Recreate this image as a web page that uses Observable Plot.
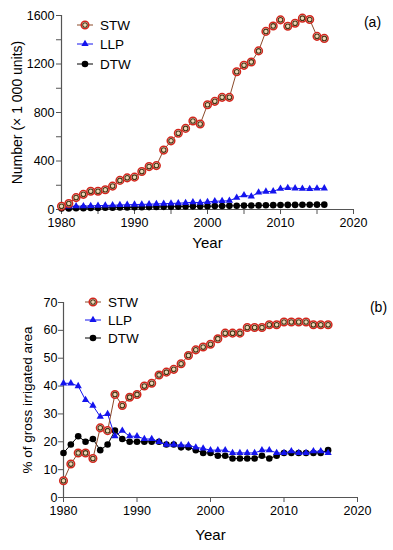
<!DOCTYPE html>
<html>
<head>
<meta charset="utf-8">
<script src="https://cdn.jsdelivr.net/npm/d3@7"></script>
<script src="https://cdn.jsdelivr.net/npm/@observablehq/plot@0.6"></script>
<style>
  html, body { margin: 0; padding: 0; background: #fff; }
  #wrap { position: relative; width: 393px; height: 550px; font-family: "Liberation Sans", Arial, sans-serif; }
  #wrap svg { display: block; }
  #legend { position: absolute; left: 0; top: 0; pointer-events: none; }
</style>
</head>
<body>
<div id="wrap"></div>
<script>
// ---------- Data ----------
const years = [1980,1981,1982,1983,1984,1985,1986,1987,1988,1989,1990,1991,1992,1993,1994,1995,1996,1997,1998,1999,
               2000,2001,2002,2003,2004,2005,2006,2007,2008,2009,2010,2011,2012,2013,2014,2015,2016];
const series = ["STW", "LLP", "DTW"];

// (a) Number of units (x 1 000)
const stwUnits = [27,49,98,125,150,150,163,193,240,261,267,313,354,362,490,566,629,669,730,705,
                  864,892,925,925,1136,1189,1217,1308,1469,1514,1564,1511,1536,1578,1567,1428,1411];
const llpUnits = [22,25,27,28,30,32,33,35,37,39,41,42,44,46,48,50,52,55,60,56,
                  62,68,70,72,98,118,108,140,148,150,172,178,175,172,170,173,175];
const dtwUnits = [8,9,10,11,12,13,14,15,16,17,18,19,20,21,22,23,24,25,26,26,
                  27,28,29,30,31,32,33,34,35,36,37,38,38,39,39,40,40];

// (b) % of gross irrigated area
const stwPct = [6,12,16,16,14,25,24,37,33,36,37,40,41,44,45,46,48,51,53,54,
                55,57,59,59,59,61,61,61,62,62,63,63,63,63,62,62,62];
const llpPct = [41,41,40,35,33,29,30,22,24,22,22,21,21,20,19,19,18.8,18.8,18,17.6,
                17,17,17,16,16,16,16,17,17,16,16,16.6,16,16,16.6,16.6,16];
const dtwPct = [16,19,22,20,21,17,19,24,21,20,20,20,20,20,19,19,18,18,17,16,
                16,15,15,14,14,14,14,15,14,15,16,16,16,16,16,16,17];

// Axis ticks
const xTicksTop = [1980,1985,1990,1995,2000,2005,2010,2015,2020];
const yTicksTop = [0,200,400,600,800,1000,1200,1400,1600];
const xTicksBot = [1980,1990,2000,2010,2020];
const yTicksBot = [0,10,20,30,40,50,60,70];

// Styles
const colors = {STW: "#8b4a2a", LLP: "#1414ee", DTW: "#000000"};
const stwRing = "#d3261c", stwInner = "#4a3412", stwFill = "#ead8b8";
const FONT = "'Liberation Sans', Arial, sans-serif";
const TRI_R = 2.7;

function rows(vals) { return years.map((y, i) => ({year: y, value: vals[i]})); }

function seriesMarks(stw, llp, dtw) {
  const S = rows(stw), L = rows(llp), D = rows(dtw);
  return [
    Plot.line(D, {x: "year", y: "value", stroke: colors.DTW, strokeWidth: 1}),
    Plot.dot(D, {x: "year", y: "value", fill: colors.DTW, r: 3.3}),
    Plot.line(L, {x: "year", y: "value", stroke: colors.LLP, strokeWidth: 1}),
    Plot.dot(L, {x: "year", y: "value", fill: colors.LLP, symbol: "triangle", r: TRI_R}),
    Plot.line(S, {x: "year", y: "value", stroke: colors.STW, strokeWidth: 1}),
    Plot.dot(S, {x: "year", y: "value", fill: "#fff", stroke: stwRing, strokeWidth: 1.5, r: 3.8}),
    Plot.dot(S, {x: "year", y: "value", fill: stwFill, stroke: stwInner, strokeWidth: 1.1, r: 2.3})
  ];
}

function panel(opts) {
  return Plot.plot({
    width: 393,
    height: opts.height,
    marginLeft: opts.ml, marginRight: opts.mr, marginTop: opts.mt, marginBottom: opts.mb,
    style: {fontFamily: FONT, fontSize: "12.5px", color: "#000", background: "#fff", overflow: "visible"},
    x: {domain: [1980, 2020]},
    y: {domain: opts.yDomain},
    marks: [
      Plot.axisX({ticks: opts.xTicks, tickFormat: d => d % 10 ? "" : String(d), tickSize: 5, tickPadding: opts.xPad, label: null, stroke: "#555", fill: "#000", fontSize: 12.5}),
      Plot.axisY({ticks: opts.yTicks, tickFormat: opts.yFmt, tickSize: 5, tickPadding: opts.yPad, label: null, stroke: "#555", fill: "#000", fontSize: 12.5}),
      Plot.ruleX([1980], {stroke: "#555", strokeWidth: 1.2}),
      Plot.ruleY([opts.yDomain[0]], {stroke: "#555", strokeWidth: 1.2}),
      ...seriesMarks(opts.stw, opts.llp, opts.dtw),
      Plot.text([opts.yLabel], {frameAnchor: "left", rotate: -90, dx: opts.yLabelDx, textAnchor: "middle", lineAnchor: "middle", fontSize: opts.yLabelSize, fill: "#000"}),
      Plot.text(["Year"], {frameAnchor: "bottom", dy: opts.xLabelDy, textAnchor: "middle", lineAnchor: "middle", fontSize: 15, fill: "#000"}),
      Plot.text([opts.tag], {frameAnchor: "top-right", dx: opts.tagDx, dy: opts.tagDy, textAnchor: "middle", lineAnchor: "middle", fontSize: 14, fill: "#000"})
    ]
  });
}

const panelA = panel({
  height: 260, ml: 61, mr: 40, mt: 15, mb: 51,
  yDomain: [0, 1600], xTicks: xTicksTop, yTicks: yTicksTop,
  yFmt: d => d % 400 ? "" : String(d), xPad: 4, yPad: 2,
  stw: stwUnits, llp: llpUnits, dtw: dtwUnits,
  yLabel: "Number (× 1 000 units)", yLabelDx: -44, yLabelSize: 14, xLabelDy: 34,
  tag: "(a)", tagDx: 19, tagDy: 7
});
const panelB = panel({
  height: 290, ml: 63, mr: 36, mt: 42, mb: 53,
  yDomain: [0, 70], xTicks: xTicksBot, yTicks: yTicksBot,
  yFmt: d => String(d), xPad: 4, yPad: 1,
  stw: stwPct, llp: llpPct, dtw: dtwPct,
  yLabel: "% of gross irrigated area", yLabelDx: -36, yLabelSize: 13.5, xLabelDy: 38,
  tag: "(b)", tagDx: 21, tagDy: 5
});

const wrap = document.getElementById("wrap");
wrap.appendChild(panelA);
wrap.appendChild(panelB);

// ---------- In-plot legends (overlay) ----------
const legendSvg = d3.select(wrap).append("svg").attr("id", "legend").attr("width", 393).attr("height", 550);
function legend(cx, textX, ys) {
  series.forEach((name, i) => {
    const g = legendSvg.append("g").attr("transform", `translate(${cx},${ys[i]})`);
    g.append("line").attr("x1", -8).attr("x2", 8).attr("stroke", colors[name]).attr("stroke-width", 1);
    if (name === "STW") {
      g.append("circle").attr("r", 3.8).attr("fill", "#fff").attr("stroke", stwRing).attr("stroke-width", 1.5);
      g.append("circle").attr("r", 2.3).attr("fill", stwFill).attr("stroke", stwInner).attr("stroke-width", 1.1);
    } else if (name === "LLP") {
      g.append("path").attr("d", d3.symbol(d3.symbolTriangle, Math.PI * TRI_R * TRI_R)()).attr("fill", colors.LLP);
    } else {
      g.append("circle").attr("r", 3.3).attr("fill", colors.DTW);
    }
    legendSvg.append("text").attr("x", textX).attr("y", ys[i]).attr("dy", "0.35em")
      .attr("font-family", FONT).attr("font-size", 13.5).attr("fill", "#000").text(name);
  });
}
legend(85, 100, [25, 44, 64]);
legend(93, 108, [302, 320, 338]);
</script>
</body>
</html>
